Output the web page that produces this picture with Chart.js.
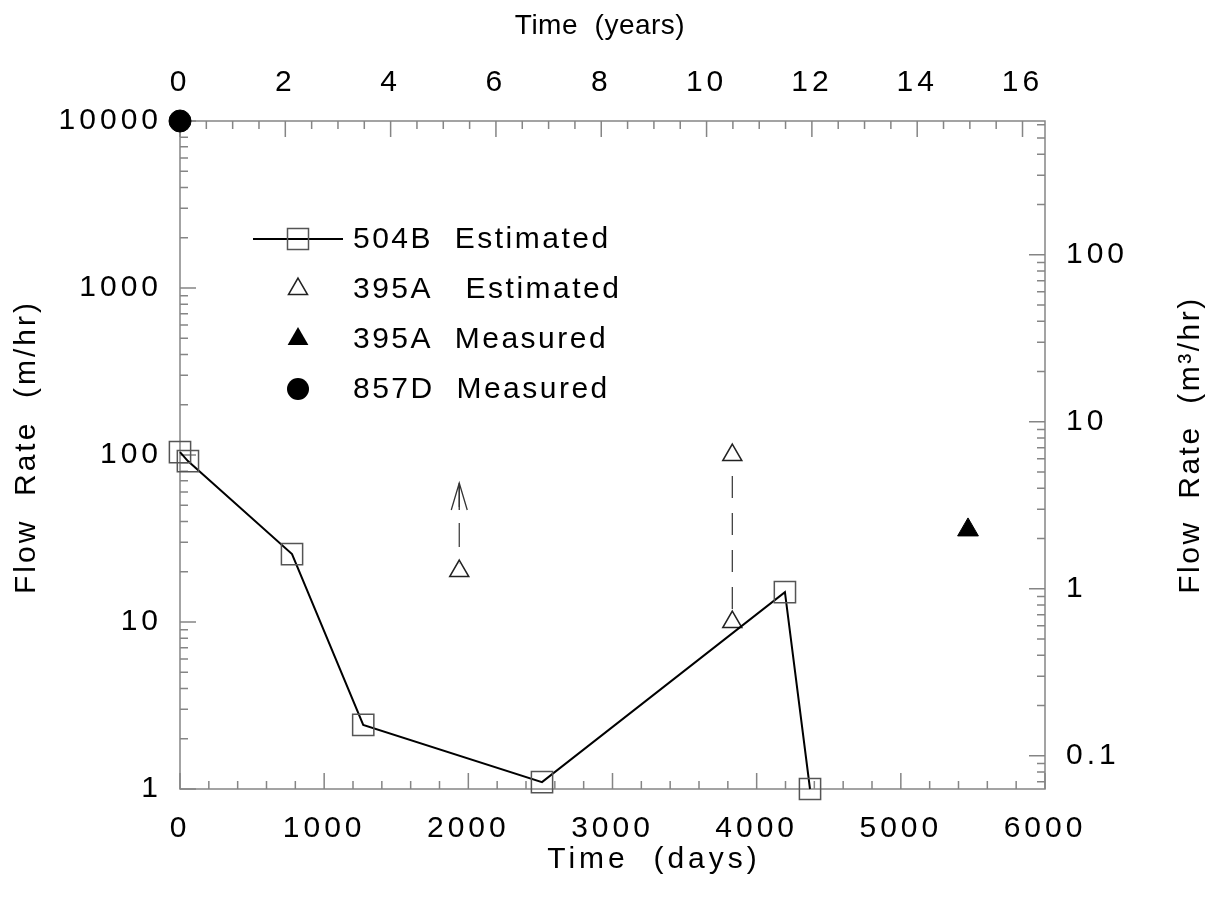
<!DOCTYPE html>
<html>
<head>
<meta charset="utf-8">
<script src="https://cdn.jsdelivr.net/npm/chart.js@4.4.1/dist/chart.umd.min.js"></script>
<style>
  html, body { margin: 0; padding: 0; background: #fff; }
</style>
</head>
<body>
<canvas id="flowChart" width="1217" height="904"></canvas>
<script>
const FONT = '"Liberation Sans", Arial, Helvetica, sans-serif';

// 504B estimated (days, m/hr)
const days504B = [0, 55, 777, 1271, 2511, 4196, 4370];
const flow504B = [104, 92, 25.5, 2.42, 1.1, 15.1, 1.0];

// 395A estimated
const days395AEst = [1937, 3831, 3831];
const flow395AEst = [20.2, 100, 10];

// 395A measured
const days395AMeas = [5466];
const flow395AMeas = [35.6];

// 857D measured
const days857D = [0];
const flow857D = [10000];

// dashed ranges between estimates (first one ends in an arrow)
const rangeDays = [1937, 3831];
const rangeTop = [68, 92];
const rangeBottom = [22.5, 11.2];

// axes
const dayTicks = [0, 1000, 2000, 3000, 4000, 5000, 6000];
const yearTicks = [0, 2, 4, 6, 8, 10, 12, 14, 16];
const flowTicks = [1, 10, 100, 1000, 10000];
const volTicks = [0.1, 1, 10, 100];
const DAYS_MAX = 6000;
const FLOW_MIN = 1;
const FLOW_MAX = 10000;
const M_PER_M3 = 15.8; // m/hr per m3/hr

const legendRows = [
  { label: "504B  Estimated", style: "lineSquare" },
  { label: "395A   Estimated", style: "openTriangle" },
  { label: "395A  Measured", style: "filledTriangle" },
  { label: "857D  Measured", style: "filledCircle" }
];

function toPoints(xs, ys) {
  return xs.map((x, i) => ({ x: x, y: ys[i] }));
}

function setTicks(values) {
  return function (scale) {
    scale.ticks = values.map(v => ({ value: v }));
  };
}

const tickFont = { family: FONT, size: 30 };

const frameTicks = {
  id: "frameTicks",
  beforeDraw(chart) {
    chart.ctx.letterSpacing = "4px";
  },
  beforeDatasetsDraw(chart) {
    const { ctx, chartArea: a, scales } = chart;
    ctx.save();
    ctx.strokeStyle = "#858585";
    ctx.lineWidth = 1.5;
    ctx.strokeRect(a.left, a.top, a.right - a.left, a.bottom - a.top);
    ctx.beginPath();
    for (let d = 0; d <= DAYS_MAX; d += 200) {
      const x = scales.x.getPixelForValue(d);
      const len = d % 1000 === 0 ? 16 : 8;
      ctx.moveTo(x, a.bottom);
      ctx.lineTo(x, a.bottom - len);
    }
    for (let yr = 0; yr <= scales.x2.max; yr += 0.5) {
      const x = scales.x2.getPixelForValue(yr);
      const len = yr % 2 === 0 ? 16 : 8;
      ctx.moveTo(x, a.top);
      ctx.lineTo(x, a.top + len);
    }
    const logTicks = (scale, x, dir) => {
      const e0 = Math.floor(Math.log10(scale.min));
      const e1 = Math.ceil(Math.log10(scale.max));
      for (let e = e0; e <= e1; e++) {
        for (let m = 1; m <= 9; m++) {
          const v = m * Math.pow(10, e);
          if (v < scale.min * 0.999 || v > scale.max * 1.001) continue;
          const y = scale.getPixelForValue(v);
          const len = m === 1 ? 16 : 8;
          ctx.moveTo(x, y);
          ctx.lineTo(x + dir * len, y);
        }
      }
    };
    logTicks(scales.y, a.left, 1);
    logTicks(scales.y2, a.right, -1);
    ctx.stroke();
    ctx.restore();
  },
  afterDatasetsDraw(chart) {
    // arrow head on the first range
    const meta = chart.getDatasetMeta(4);
    const tip = meta.data[0];
    const ctx = chart.ctx;
    ctx.save();
    ctx.strokeStyle = "#333";
    ctx.lineWidth = 1.3;
    ctx.beginPath();
    ctx.moveTo(tip.x - 8, tip.y + 27);
    ctx.lineTo(tip.x, tip.y);
    ctx.lineTo(tip.x + 8, tip.y + 27);
    ctx.moveTo(tip.x, tip.y);
    ctx.lineTo(tip.x, tip.y + 27);
    ctx.stroke();
    ctx.restore();
  },
  afterDraw(chart) {
    const ctx = chart.ctx;
    ctx.save();
    ctx.fillStyle = "#000";

    // legend
    const mx = 298, tx = 353;
    ctx.font = "30px " + FONT;
    ctx.letterSpacing = "2.5px";
    ctx.textBaseline = "middle";
    ctx.textAlign = "left";
    legendRows.forEach((row, i) => {
      const y = 239 + i * 50;
      ctx.strokeStyle = "#000";
      if (row.style === "lineSquare") {
        ctx.lineWidth = 2;
        ctx.beginPath();
        ctx.moveTo(253, y);
        ctx.lineTo(343, y);
        ctx.stroke();
        ctx.strokeStyle = "#555";
        ctx.lineWidth = 1.5;
        ctx.strokeRect(mx - 10.5, y - 10.5, 21, 21);
      } else if (row.style === "openTriangle" || row.style === "filledTriangle") {
        const r = row.style === "openTriangle" ? 11 : 12;
        ctx.beginPath();
        ctx.moveTo(mx, y - r);
        ctx.lineTo(mx + r * 0.866, y + r / 2);
        ctx.lineTo(mx - r * 0.866, y + r / 2);
        ctx.closePath();
        if (row.style === "filledTriangle") {
          ctx.fill();
        } else {
          ctx.strokeStyle = "#222";
          ctx.lineWidth = 1.5;
          ctx.stroke();
        }
      } else {
        ctx.beginPath();
        ctx.arc(mx, y, 11, 0, Math.PI * 2);
        ctx.fill();
      }
      ctx.fillText(row.label, tx, y + 1);
    });

    // axis titles
    ctx.textAlign = "center";
    ctx.font = "28px " + FONT;
    ctx.letterSpacing = "0.5px";
    ctx.fillText("Time  (years)", 600, 26);
    ctx.font = "30px " + FONT;
    ctx.letterSpacing = "4px";
    ctx.fillText("Time  (days)", 654, 860);

    ctx.letterSpacing = "3px";
    ctx.save();
    ctx.translate(27, 447);
    ctx.rotate(-Math.PI / 2);
    ctx.fillText("Flow  Rate  (m/hr)", 0, 0);
    ctx.restore();

    ctx.letterSpacing = "2.5px";
    ctx.save();
    ctx.translate(1191, 445);
    ctx.rotate(-Math.PI / 2);
    ctx.fillText("Flow  Rate  (m\u00b3/hr)", 0, 0);
    ctx.restore();

    ctx.letterSpacing = "0px";
    ctx.restore();
  }
};

const ctx = document.getElementById("flowChart").getContext("2d");

new Chart(ctx, {
  type: "line",
  data: {
    datasets: [
      {
        label: "504B Estimated",
        data: toPoints(days504B, flow504B),
        borderColor: "#000",
        borderWidth: 2,
        pointStyle: "rect",
        pointRadius: 15,
        pointBorderColor: "#555",
        pointBorderWidth: 1.5,
        pointBackgroundColor: "rgba(0,0,0,0)",
        tension: 0,
        clip: false
      },
      {
        label: "395A Estimated",
        data: toPoints(days395AEst, flow395AEst),
        showLine: false,
        pointStyle: "triangle",
        pointRadius: 11,
        pointBorderColor: "#222",
        pointBorderWidth: 1.5,
        pointBackgroundColor: "rgba(0,0,0,0)",
        clip: false
      },
      {
        label: "395A Measured",
        data: toPoints(days395AMeas, flow395AMeas),
        showLine: false,
        pointStyle: "triangle",
        pointRadius: 12,
        pointBorderColor: "#000",
        pointBorderWidth: 1,
        pointBackgroundColor: "#000",
        clip: false
      },
      {
        label: "857D Measured",
        data: toPoints(days857D, flow857D),
        showLine: false,
        pointStyle: "circle",
        pointRadius: 11,
        pointBorderColor: "#000",
        pointBorderWidth: 1,
        pointBackgroundColor: "#000",
        clip: false
      },
      {
        label: "range 1",
        data: [
          { x: rangeDays[0], y: rangeTop[0] },
          { x: rangeDays[0], y: rangeBottom[0] }
        ],
        borderColor: "#333",
        borderWidth: 1.2,
        borderDash: [24, 16],
        pointRadius: 0
      },
      {
        label: "range 2",
        data: [
          { x: rangeDays[1], y: rangeTop[1] },
          { x: rangeDays[1], y: rangeBottom[1] }
        ],
        borderColor: "#333",
        borderWidth: 1.2,
        borderDash: [22, 15],
        borderDashOffset: 22,
        pointRadius: 0
      }
    ]
  },
  options: {
    responsive: false,
    animation: false,
    layout: { padding: 0 },
    plugins: {
      legend: { display: false },
      tooltip: { enabled: false }
    },
    scales: {
      x: {
        type: "linear",
        position: "bottom",
        min: 0,
        max: DAYS_MAX,
        grid: { display: false },
        border: { display: false },
        afterBuildTicks: setTicks(dayTicks),
        afterFit: s => { s.height = 115; },
        ticks: {
          font: tickFont,
          color: "#000",
          padding: 14,
          maxRotation: 0,
          autoSkip: false,
          callback: v => String(v)
        }
      },
      x2: {
        type: "linear",
        position: "top",
        min: 0,
        max: DAYS_MAX / 365.25,
        grid: { display: false },
        border: { display: false },
        afterBuildTicks: setTicks(yearTicks),
        afterFit: s => { s.height = 121; },
        ticks: {
          font: tickFont,
          color: "#000",
          padding: 12,
          maxRotation: 0,
          autoSkip: false,
          callback: v => String(v)
        }
      },
      y: {
        type: "logarithmic",
        position: "left",
        min: FLOW_MIN,
        max: FLOW_MAX,
        grid: { display: false },
        border: { display: false },
        afterBuildTicks: setTicks(flowTicks),
        afterFit: s => { s.width = 180; },
        ticks: {
          font: tickFont,
          color: "#000",
          padding: 10,
          autoSkip: false,
          callback: v => String(v)
        }
      },
      y2: {
        type: "logarithmic",
        position: "right",
        min: FLOW_MIN / M_PER_M3,
        max: FLOW_MAX / M_PER_M3,
        grid: { display: false },
        border: { display: false },
        afterBuildTicks: setTicks(volTicks),
        afterFit: s => { s.width = 172; },
        ticks: {
          font: tickFont,
          color: "#000",
          padding: 13,
          autoSkip: false,
          callback: v => String(v)
        }
      }
    }
  },
  plugins: [frameTicks]
});
</script>
</body>
</html>
